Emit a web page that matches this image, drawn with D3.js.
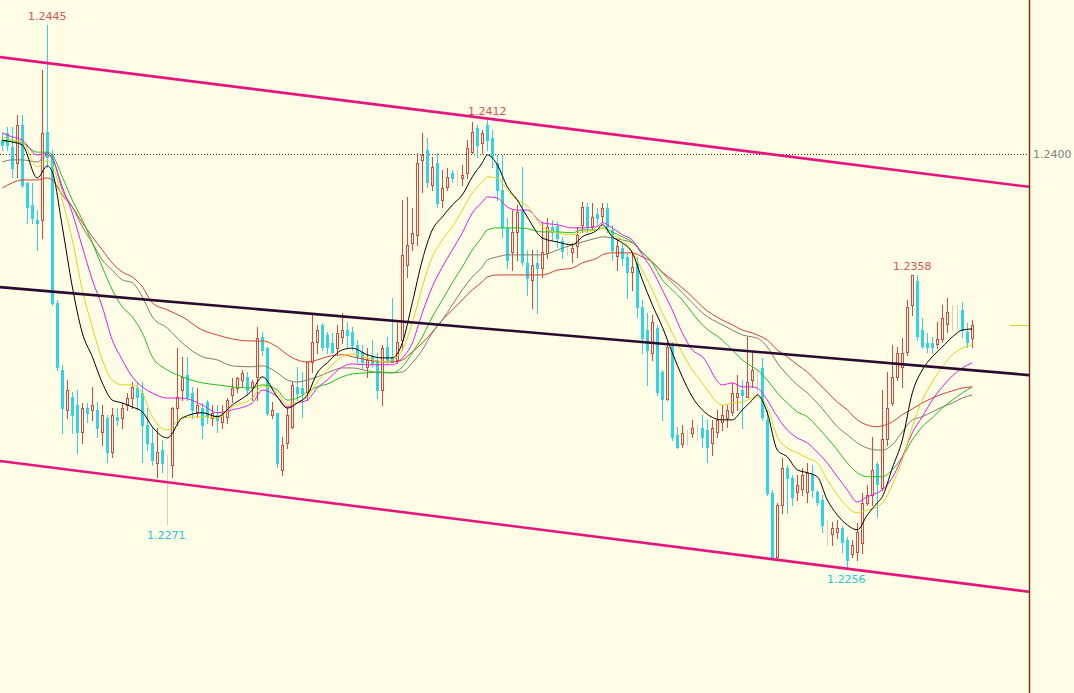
<!DOCTYPE html>
<html><head><meta charset="utf-8">
<script src="https://cdn.jsdelivr.net/npm/d3@7"></script>
<style>html,body{margin:0;padding:0;background:#FFFDE6;overflow:hidden}</style>
</head><body><svg id="chart" width="1074" height="693"></svg>
<script>
// ---- candle data (index = bar number) ----
const open = [1.24049,1.24074,1.24025,1.23969,1.24102,1.23899,1.23823,1.23771,1.23771,1.24077,
1.23997,1.23481,1.23248,1.23109,1.23154,1.23126,1.23032,1.23115,1.23109,1.23109,
1.23032,1.23081,1.22962,1.23084,1.23081,1.23126,1.23150,1.23185,1.23168,1.23056,
1.22994,1.22924,1.22969,1.22900,1.22917,1.23115,1.23178,1.23230,1.23168,1.23102,
1.23115,1.23136,1.23081,1.23091,1.23067,1.23084,1.23161,1.23185,1.23213,1.23224,
1.23189,1.23224,1.23363,1.23324,1.23091,1.23098,1.22900,1.22994,1.23049,1.23189,
1.23185,1.23171,1.23276,1.23345,1.23405,1.23370,1.23342,1.23324,1.23363,1.23387,
1.23380,1.23335,1.23311,1.23258,1.23293,1.23283,1.23178,1.23328,1.23293,1.23283,
1.23352,1.23614,1.23690,1.23718,1.23980,1.24014,1.23893,1.23969,1.23840,1.23886,
1.23934,1.23924,1.23917,1.23934,1.24007,1.24091,1.24039,1.24102,1.24056,1.23969,
1.23875,1.23743,1.23659,1.23729,1.23805,1.23621,1.23562,1.23621,1.23603,1.23656,
1.23746,1.23750,1.23697,1.23673,1.23659,1.23680,1.23753,1.23816,1.23750,1.23791,
1.23784,1.23812,1.23736,1.23645,1.23673,1.23642,1.23589,1.23617,1.23467,1.23387,
1.23307,1.23394,1.23241,1.23147,1.23338,1.23021,1.22990,1.23011,1.23028,1.23032,
1.23046,1.23039,1.22994,1.23032,1.23067,1.23081,1.23102,1.23154,1.23178,1.23154,
1.23213,1.23213,1.23255,1.23074,1.22819,1.22596,1.22778,1.22906,1.22872,1.22823,
1.22833,1.22823,1.22886,1.22823,1.22795,1.22690,1.22677,1.22683,1.22697,1.22656,
1.22607,1.22614,1.22645,1.22785,1.22812,1.22920,1.22837,1.23007,1.23133,1.23224,
1.23258,1.23311,1.23474,1.23558,1.23387,1.23342,1.23342,1.23338,1.23356,1.23408,
1.23429,1.23436,1.23457,1.23380,1.23359];
const high = [1.24074,1.24095,1.24095,1.24136,1.24136,1.23903,1.23899,1.23805,1.24293,1.24450,
1.24014,1.23492,1.23265,1.23213,1.23171,1.23178,1.23133,1.23133,1.23189,1.23136,
1.23126,1.23091,1.23115,1.23115,1.23133,1.23168,1.23206,1.23206,1.23206,1.23115,
1.23049,1.23046,1.23004,1.22952,1.23119,1.23324,1.23293,1.23293,1.23189,1.23185,
1.23133,1.23143,1.23126,1.23126,1.23126,1.23150,1.23220,1.23224,1.23248,1.23241,
1.23213,1.23398,1.23380,1.23328,1.23136,1.23098,1.23015,1.23119,1.23206,1.23258,
1.23241,1.23276,1.23440,1.23405,1.23412,1.23380,1.23377,1.23405,1.23446,1.23415,
1.23398,1.23352,1.23335,1.23324,1.23352,1.23307,1.23335,1.23363,1.23499,1.23412,
1.23840,1.23851,1.23812,1.24004,1.24074,1.24056,1.23990,1.24004,1.23945,1.23952,
1.23945,1.23945,1.23962,1.24049,1.24112,1.24102,1.24084,1.24119,1.24084,1.23997,
1.23997,1.23778,1.23805,1.23823,1.23955,1.23666,1.23666,1.23666,1.23764,1.23778,
1.23771,1.23764,1.23711,1.23690,1.23690,1.23746,1.23833,1.23830,1.23830,1.23812,
1.23830,1.23830,1.23753,1.23701,1.23690,1.23656,1.23659,1.23642,1.23492,1.23446,
1.23440,1.23405,1.23248,1.23345,1.23345,1.23049,1.23056,1.23039,1.23074,1.23056,
1.23091,1.23074,1.23074,1.23109,1.23126,1.23126,1.23203,1.23230,1.23213,1.23363,
1.23311,1.23248,1.23290,1.23109,1.22830,1.22784,1.22941,1.22917,1.22882,1.22882,
1.22906,1.22924,1.22917,1.22830,1.22812,1.22725,1.22718,1.22725,1.22704,1.22666,
1.22656,1.22715,1.22819,1.22847,1.23015,1.22927,1.23178,1.23241,1.23335,1.23328,
1.23359,1.23492,1.23579,1.23579,1.23429,1.23377,1.23363,1.23415,1.23474,1.23499,
1.23474,1.23474,1.23485,1.23412,1.23422];
const low = [1.24014,1.24014,1.23920,1.23920,1.23886,1.23760,1.23760,1.23666,1.23708,1.23955,
1.23474,1.23248,1.23028,1.23081,1.23028,1.22959,1.22994,1.23067,1.23074,1.23015,
1.22987,1.22927,1.22945,1.23056,1.23046,1.23109,1.23115,1.23109,1.22927,1.22969,
1.22917,1.22875,1.22892,1.22711,1.22875,1.23056,1.23143,1.23143,1.23081,1.23084,
1.23011,1.23063,1.23056,1.23032,1.23046,1.23063,1.23136,1.23171,1.23189,1.23161,
1.23143,1.23143,1.23300,1.23091,1.23081,1.22910,1.22882,1.22976,1.23046,1.23143,
1.23084,1.23143,1.23241,1.23307,1.23318,1.23307,1.23307,1.23300,1.23342,1.23328,
1.23318,1.23276,1.23255,1.23224,1.23258,1.23150,1.23126,1.23272,1.23276,1.23272,
1.23318,1.23572,1.23666,1.23683,1.23868,1.23886,1.23875,1.23816,1.23816,1.23875,
1.23903,1.23893,1.23893,1.23917,1.24004,1.23990,1.24004,1.24014,1.23955,1.23840,
1.23711,1.23603,1.23596,1.23631,1.23614,1.23509,1.23464,1.23447,1.23572,1.23638,
1.23701,1.23676,1.23638,1.23649,1.23624,1.23642,1.23729,1.23729,1.23736,1.23753,
1.23764,1.23729,1.23631,1.23596,1.23614,1.23499,1.23527,1.23433,1.23307,1.23196,
1.23283,1.23161,1.23074,1.23143,1.23004,1.22976,1.22980,1.22987,1.23015,1.23004,
1.22980,1.22927,1.22952,1.23015,1.23039,1.23049,1.23091,1.23109,1.23046,1.23154,
1.23189,1.23161,1.23074,1.22812,1.22586,1.22586,1.22750,1.22750,1.22778,1.22795,
1.22812,1.22788,1.22805,1.22778,1.22683,1.22638,1.22638,1.22663,1.22614,1.22558,
1.22596,1.22586,1.22610,1.22778,1.22778,1.22736,1.22830,1.22987,1.23126,1.23213,
1.23189,1.23300,1.23440,1.23352,1.23324,1.23311,1.23307,1.23324,1.23345,1.23380,
1.23387,1.23394,1.23363,1.23328,1.23328];
const close = [1.24032,1.24032,1.23952,1.24102,1.23893,1.23816,1.23778,1.23760,1.24074,1.23990,
1.23481,1.23258,1.23115,1.23178,1.23091,1.23032,1.23115,1.23098,1.23126,1.23046,
1.23091,1.22962,1.23091,1.23074,1.23115,1.23150,1.23189,1.23154,1.23056,1.22994,
1.22934,1.22962,1.22924,1.22900,1.23115,1.23154,1.23223,1.23154,1.23109,1.23126,
1.23056,1.23084,1.23098,1.23074,1.23091,1.23143,1.23185,1.23220,1.23237,1.23178,
1.23206,1.23359,1.23318,1.23098,1.23109,1.22924,1.22987,1.23091,1.23196,1.23168,
1.23168,1.23276,1.23345,1.23387,1.23328,1.23328,1.23311,1.23377,1.23387,1.23370,
1.23335,1.23293,1.23276,1.23283,1.23272,1.23178,1.23324,1.23283,1.23276,1.23345,
1.23649,1.23683,1.23725,1.23969,1.23997,1.23903,1.23955,1.23830,1.23882,1.23920,
1.23917,1.23924,1.23927,1.24021,1.24077,1.24032,1.24074,1.24049,1.23990,1.23875,
1.23746,1.23631,1.23729,1.23798,1.23624,1.23568,1.23614,1.23603,1.23659,1.23746,
1.23729,1.23708,1.23662,1.23673,1.23673,1.23718,1.23816,1.23750,1.23781,1.23778,
1.23812,1.23746,1.23666,1.23680,1.23638,1.23589,1.23607,1.23467,1.23359,1.23318,
1.23415,1.23171,1.23147,1.23328,1.23015,1.22980,1.23028,1.23011,1.23046,1.23032,
1.23015,1.22980,1.23046,1.23074,1.23091,1.23109,1.23168,1.23168,1.23161,1.23206,
1.23248,1.23213,1.23084,1.22819,1.22596,1.22778,1.22906,1.22872,1.22805,1.22847,
1.22882,1.22889,1.22830,1.22788,1.22708,1.22690,1.22697,1.22697,1.22649,1.22586,
1.22638,1.22684,1.22785,1.22812,1.22900,1.22851,1.23007,1.23116,1.23224,1.23307,
1.23307,1.23467,1.23579,1.23366,1.23331,1.23328,1.23328,1.23356,1.23429,1.23450,
1.23429,1.23436,1.23387,1.23345,1.23405];

// ---- moving averages read at these bar indices ----
const maIndex = [0,2,4,7,9,10,12,14,16,18,20,22,24,26,28,30,33,36,40,43,46,50,52,55,57,59,61,63,65,68,
70,73,76,78,80,82,84,86,88,90,92,94,96,97,99,101,103,105,108,111,114,116,119,120,122,124,126,128,130,132,
134,136,138,140,144,146,148,150,151,153,155,157,159,161,163,165,167,169,171,173,175,176,178,180,182,184,186,188,190,192,194];
const maBlack = [1.24049,1.24042,1.24032,1.23917,1.23959,1.23938,1.23747,1.23538,1.23377,1.23294,
1.23203,1.23143,1.23133,1.23119,1.23102,1.23050,1.23011,1.23081,1.23099,1.23085,
1.23126,1.23178,1.23224,1.23154,1.23115,1.23133,1.23161,1.23238,1.23273,1.23318,
1.23324,1.23301,1.23290,1.23290,1.23342,1.23482,1.23631,1.23736,1.23781,1.23823,
1.23858,1.23921,1.23970,1.23997,1.23963,1.23886,1.23840,1.23781,1.23708,1.23694,
1.23684,1.23712,1.23736,1.23754,1.23712,1.23691,1.23656,1.23562,1.23475,1.23398,
1.23308,1.23224,1.23154,1.23109,1.23074,1.23074,1.23109,1.23143,1.23161,1.23099,
1.22969,1.22945,1.22900,1.22890,1.22876,1.22795,1.22743,1.22708,1.22691,1.22743,
1.22785,1.22806,1.22906,1.23004,1.23168,1.23248,1.23294,1.23328,1.23363,1.23387,1.23391];
const maYellow = [1.24060,1.24049,1.24042,1.23956,1.23977,1.23963,1.23840,1.23701,1.23527,1.23398,
1.23283,1.23213,1.23196,1.23196,1.23168,1.23085,1.23039,1.23081,1.23085,1.23081,
1.23119,1.23150,1.23192,1.23168,1.23126,1.23136,1.23154,1.23206,1.23248,1.23294,
1.23304,1.23290,1.23276,1.23283,1.23318,1.23412,1.23538,1.23642,1.23701,1.23747,
1.23805,1.23865,1.23903,1.23921,1.23917,1.23875,1.23840,1.23819,1.23747,1.23726,
1.23719,1.23729,1.23736,1.23743,1.23719,1.23701,1.23659,1.23596,1.23527,1.23447,
1.23377,1.23308,1.23248,1.23203,1.23126,1.23133,1.23136,1.23150,1.23154,1.23119,
1.23015,1.22976,1.22959,1.22941,1.22924,1.22865,1.22813,1.22771,1.22750,1.22760,
1.22771,1.22785,1.22848,1.22934,1.23050,1.23143,1.23206,1.23259,1.23301,1.23324,1.23335];
const maMagenta = [1.24074,1.24060,1.24049,1.23997,1.24004,1.23986,1.23886,1.23795,1.23677,1.23562,
1.23468,1.23352,1.23283,1.23224,1.23189,1.23168,1.23150,1.23150,1.23126,1.23099,
1.23109,1.23133,1.23178,1.23154,1.23119,1.23133,1.23143,1.23185,1.23213,1.23259,
1.23269,1.23266,1.23266,1.23266,1.23290,1.23342,1.23447,1.23538,1.23607,1.23666,
1.23726,1.23795,1.23833,1.23851,1.23847,1.23816,1.23805,1.23805,1.23761,1.23754,
1.23743,1.23743,1.23747,1.23761,1.23743,1.23719,1.23701,1.23649,1.23596,1.23527,
1.23457,1.23377,1.23318,1.23294,1.23196,1.23203,1.23189,1.23189,1.23185,1.23143,
1.23085,1.23039,1.23011,1.22994,1.22962,1.22924,1.22876,1.22830,1.22788,1.22806,
1.22820,1.22830,1.22872,1.22945,1.23029,1.23085,1.23143,1.23189,1.23227,1.23255,1.23273];
const maGreen = [1.24042,1.24046,1.24039,1.24007,1.24007,1.23997,1.23921,1.23840,1.23771,1.23691,
1.23607,1.23527,1.23468,1.23433,1.23377,1.23294,1.23248,1.23224,1.23203,1.23196,
1.23189,1.23185,1.23196,1.23178,1.23143,1.23150,1.23171,1.23189,1.23199,1.23224,
1.23234,1.23238,1.23241,1.23238,1.23259,1.23308,1.23363,1.23433,1.23492,1.23552,
1.23607,1.23666,1.23712,1.23736,1.23743,1.23743,1.23743,1.23740,1.23729,1.23729,
1.23726,1.23736,1.23736,1.23743,1.23729,1.23712,1.23694,1.23659,1.23621,1.23562,
1.23527,1.23492,1.23447,1.23405,1.23352,1.23318,1.23283,1.23259,1.23248,1.23213,
1.23168,1.23133,1.23102,1.23085,1.23050,1.23011,1.22969,1.22924,1.22890,1.22876,
1.22876,1.22876,1.22900,1.22945,1.23004,1.23050,1.23081,1.23115,1.23143,1.23168,1.23189];
const maGrey = [1.23973,1.23980,1.23980,1.23973,1.23997,1.23986,1.23875,1.23816,1.23747,1.23691,
1.23631,1.23596,1.23562,1.23552,1.23503,1.23433,1.23394,1.23342,1.23294,1.23283,
1.23262,1.23259,1.23262,1.23238,1.23213,1.23206,1.23213,1.23224,1.23238,1.23255,
1.23255,1.23245,1.23238,1.23238,1.23241,1.23273,1.23318,1.23377,1.23422,1.23475,
1.23527,1.23572,1.23607,1.23631,1.23642,1.23649,1.23649,1.23649,1.23649,1.23666,
1.23684,1.23694,1.23708,1.23712,1.23708,1.23701,1.23691,1.23656,1.23624,1.23586,
1.23552,1.23517,1.23482,1.23447,1.23405,1.23387,1.23370,1.23363,1.23359,1.23328,
1.23273,1.23231,1.23196,1.23168,1.23133,1.23092,1.23050,1.23022,1.22994,1.22976,
1.22969,1.22969,1.22987,1.23032,1.23074,1.23085,1.23102,1.23119,1.23133,1.23150,1.23161];
const maRed = [1.23882,1.23900,1.23910,1.23910,1.23917,1.23910,1.23858,1.23816,1.23761,1.23712,
1.23666,1.23621,1.23589,1.23572,1.23538,1.23482,1.23457,1.23433,1.23387,1.23370,
1.23356,1.23349,1.23349,1.23328,1.23301,1.23283,1.23276,1.23283,1.23294,1.23301,
1.23294,1.23283,1.23276,1.23276,1.23283,1.23311,1.23342,1.23380,1.23422,1.23457,
1.23492,1.23527,1.23555,1.23572,1.23579,1.23579,1.23579,1.23579,1.23579,1.23596,
1.23603,1.23621,1.23638,1.23649,1.23656,1.23656,1.23656,1.23642,1.23624,1.23589,
1.23562,1.23534,1.23503,1.23468,1.23422,1.23405,1.23387,1.23377,1.23370,1.23352,
1.23318,1.23294,1.23266,1.23241,1.23206,1.23171,1.23136,1.23109,1.23074,1.23056,
1.23050,1.23053,1.23067,1.23092,1.23112,1.23133,1.23150,1.23164,1.23175,1.23185,1.23189];

// ---- trend lines: [bar index, price] anchor pairs ----
const trendUpper = [[0, 1.24337], [194, 1.23911]];
const trendLower = [[0, 1.22930], [194, 1.22500]];
const trendMid   = [[0, 1.23536], [194, 1.23247]];
const refLevel = 1.2400;
const yTicks = [1.2400];
const highMarks = [9, 97, 182];
const lowMarks = [33, 169];

// ---- drawing ----
const W = 1074, H = 693, plotRight = 1029;
const BG = '#FFFDE6';
const svg = d3.select('#chart');
svg.append('rect').attr('width', W).attr('height', H).attr('fill', BG);

const x = d3.scaleLinear().domain([0, open.length - 1]).range([2.3, 972.3]);
const y = d3.scaleLinear().domain([1.2256, 1.2445]).range([567.4, 25]);

// reference dotted level
svg.append('line')
  .attr('x1', 0).attr('x2', plotRight)
  .attr('y1', Math.round(y(refLevel)) + 0.5).attr('y2', Math.round(y(refLevel)) + 0.5)
  .attr('stroke', '#4a2a12').attr('stroke-width', 1).attr('stroke-dasharray', '1,2');

// candles
const candles = d3.range(open.length).map(i => ({i, o: open[i], h: high[i], l: low[i], c: close[i]}));
const UP = '#e0473c', DOWN = '#2fd5e3', DOJI = '#d6d0c0';
const col = d => d.o === d.c ? DOJI : (d.c > d.o ? UP : DOWN);
const px = d => Math.round(x(d.i));
const cg = svg.append('g').selectAll('g').data(candles).join('g');
cg.append('line')
  .attr('x1', d => px(d) + 0.5).attr('x2', d => px(d) + 0.5)
  .attr('y1', d => Math.round(y(d.h))).attr('y2', d => Math.round(y(d.l)) + 1)
  .attr('stroke', col).attr('stroke-width', 1);
cg.append('rect')
  .attr('x', d => px(d) - 0.5)
  .attr('width', 2)
  .attr('y', d => Math.round(y(Math.max(d.o, d.c))) + 0.5)
  .attr('height', d => Math.max(0, Math.round(y(Math.min(d.o, d.c))) - Math.round(y(Math.max(d.o, d.c)))))
  .attr('fill', d => d.c > d.o ? BG : col(d))
  .attr('stroke', col).attr('stroke-width', 1);

// moving averages
const maSeries = [
  {v: maRed, c: '#d2402e'},
  {v: maGrey, c: '#7d7b6c'},
  {v: maGreen, c: '#1fc01f'},
  {v: maMagenta, c: '#e01ee0'},
  {v: maYellow, c: '#e2d21a'},
  {v: maBlack, c: '#000000'}
];
const maLine = d3.line().x(d => x(d[0])).y(d => y(d[1])).curve(d3.curveMonotoneX);
maSeries.forEach(s => {
  svg.append('path').datum(maIndex.map((k, j) => [k, s.v[j]]))
    .attr('d', maLine).attr('fill', 'none').attr('stroke', s.c).attr('stroke-width', 1);
});

// trend lines extended across the plot
const x0 = x.invert(0), x1 = x.invert(plotRight);
function extend(t) {
  const [[a, pa], [b, pb]] = t;
  const s = (pb - pa) / (b - a);
  return [[x0, pa + s * (x0 - a)], [x1, pa + s * (x1 - a)]];
}
const tl = d3.line().x(d => x(d[0])).y(d => y(d[1]));
[[trendUpper, '#e6147c'], [trendLower, '#e6147c'], [trendMid, '#2a0a2e']].forEach(([t, c]) => {
  svg.append('path').datum(extend(t)).attr('d', tl)
    .attr('fill', 'none').attr('stroke', c).attr('stroke-width', 2.6);
});

// peak / trough labels
const fmt = d3.format('.4f');
svg.append('g').selectAll('text').data(highMarks).join('text')
  .attr('x', i => x(i)).attr('y', i => y(high[i]) - 5)
  .attr('text-anchor', 'middle').attr('font-family', 'DejaVu Sans, sans-serif')
  .attr('font-size', 11).attr('fill', '#e05252').text(i => fmt(high[i]));
svg.append('g').selectAll('text').data(lowMarks).join('text')
  .attr('x', i => x(i) - 1).attr('y', i => y(low[i]) + 15)
  .attr('text-anchor', 'middle').attr('font-family', 'DejaVu Sans, sans-serif')
  .attr('font-size', 11).attr('fill', '#22c6da').text(i => fmt(low[i]));

// current price marker
const last = close[close.length - 1];
svg.append('line').attr('x1', 1010).attr('x2', plotRight)
  .attr('y1', Math.round(y(last)) + 0.5).attr('y2', Math.round(y(last)) + 0.5)
  .attr('stroke', '#e2d21a').attr('stroke-width', 1);

// right border
svg.append('line').attr('x1', plotRight + 0.5).attr('x2', plotRight + 0.5)
  .attr('y1', 0).attr('y2', H).attr('stroke', '#7a2a12').attr('stroke-width', 1.4);

// price axis
const axis = svg.append('g').attr('transform', `translate(${plotRight},0)`)
  .call(d3.axisRight(y).tickValues(yTicks).tickSize(0).tickPadding(4).tickFormat(fmt));
axis.select('.domain').remove();
axis.selectAll('text').attr('fill', '#808080').attr('font-size', 11)
  .attr('font-family', 'DejaVu Sans, sans-serif');
</script>
</body></html>
